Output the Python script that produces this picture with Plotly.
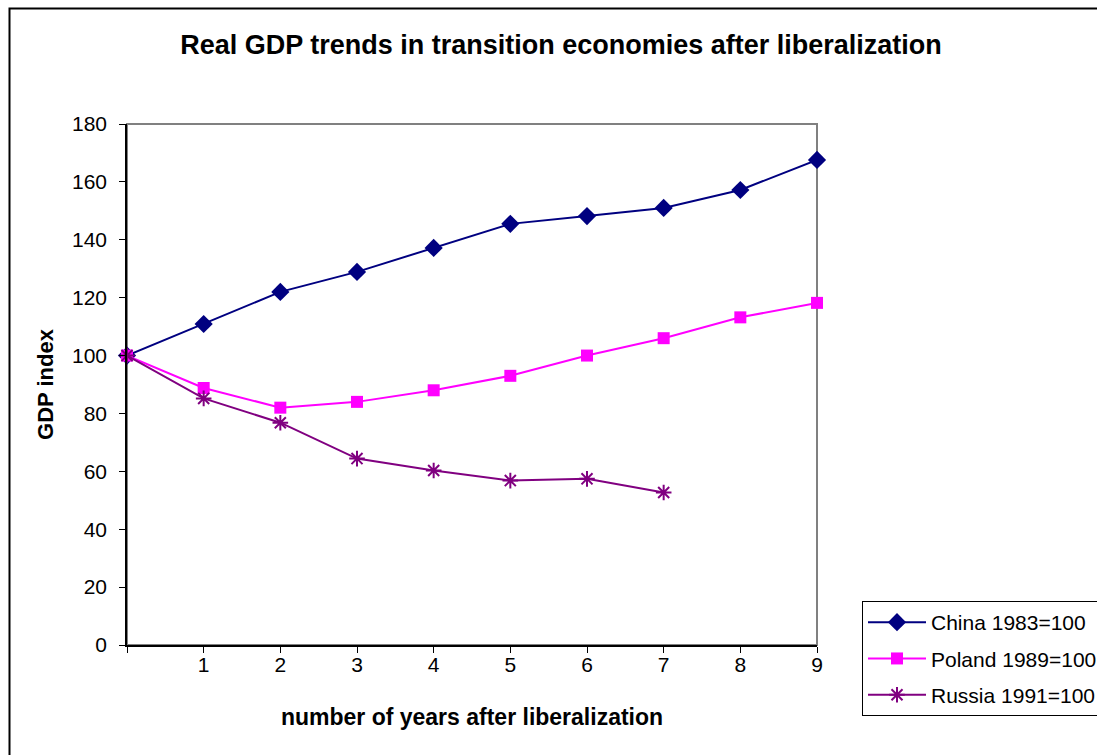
import plotly.graph_objects as go

years = [0, 1, 2, 3, 4, 5, 6, 7, 8, 9]
china = [100, 110.9, 122.0, 128.9, 137.2, 145.5, 148.2, 151.0, 157.2, 167.6]
poland = [100, 88.8, 82.0, 84.0, 88.0, 93.0, 100.0, 106.0, 113.2, 118.2]
russia_years = [0, 1, 2, 3, 4, 5, 6, 7]
russia = [100, 85.2, 76.8, 64.4, 60.3, 56.8, 57.4, 52.7]
x_ticktext = ["", "1", "2", "3", "4", "5", "6", "7", "8", "9"]
y_ticks = [0, 20, 40, 60, 80, 100, 120, 140, 160, 180]

FONT = "Arial, Liberation Sans, sans-serif"
W, H = 1097, 755
# page coordinates of plot area
L, R, T, B = 127, 817, 124, 645

fig = go.Figure()
fig.add_trace(go.Scatter(x=years, y=china, name="China 1983=100", mode="lines+markers",
                         line=dict(color="#000080", width=2),
                         marker=dict(symbol="diamond", size=14, color="#000080"),
                         cliponaxis=False, legendgroup="a"))
fig.add_trace(go.Scatter(x=years, y=poland, name="Poland 1989=100", mode="lines+markers",
                         line=dict(color="#FF00FF", width=2),
                         marker=dict(symbol="square", size=12, color="#FF00FF"),
                         cliponaxis=False, legendgroup="b"))
fig.add_trace(go.Scatter(x=russia_years, y=russia, name="Russia 1991=100", mode="lines+markers",
                         line=dict(color="#800080", width=2),
                         marker=dict(symbol="asterisk-open", size=13, color="#800080",
                                     line=dict(color="#800080", width=2)),
                         cliponaxis=False, legendgroup="c"))

def px(xp):
    return (xp - L) / (R - L)

def py(yp):
    return (B - yp) / (B - T)

# plot area border (gray top/right)
fig.add_shape(type="rect", xref="paper", yref="paper", x0=0, x1=1, y0=0, y1=1,
              line=dict(color="#808080", width=2), layer="below")
# outer chart border
fig.add_shape(type="rect", xref="paper", yref="paper", x0=px(9.5), x1=px(1400), y0=py(900), y1=py(8.5),
              line=dict(color="black", width=2), layer="below")

fig.update_layout(
    width=W, height=H,
    margin=dict(l=L, r=W - R, t=T, b=H - B, autoexpand=False),
    paper_bgcolor="white", plot_bgcolor="white",
    font=dict(family=FONT, size=20, color="black"),
    title=dict(text="<b>Real GDP trends in transition economies after liberalization</b>",
               x=561 / W, xanchor="center", y=1 - 45 / H, yanchor="middle",
               font=dict(family=FONT, size=27, color="black")),
    showlegend=True,
    legend=dict(x=px(862), y=py(601), xanchor="left", yanchor="top",
                bordercolor="black", borderwidth=1, bgcolor="white",
                font=dict(family=FONT, size=21, color="black"),
                tracegroupgap=6, traceorder="grouped", itemwidth=58),
)
fig.update_xaxes(range=[0, 9], tickvals=years, ticktext=x_ticktext,
                 showgrid=False, zeroline=False, showline=True, linecolor="black", linewidth=1.5,
                 ticks="outside", ticklen=6, tickcolor="black", tickwidth=1,
                 tickfont=dict(size=21), ticklabelstandoff=-6,
                 title=dict(text="<b>number of years after liberalization</b>", standoff=34,
                            font=dict(size=23)))
fig.update_yaxes(range=[0, 180], tickvals=y_ticks,
                 showgrid=False, zeroline=False, showline=True, linecolor="black", linewidth=1.5,
                 ticks="outside", ticklen=6, tickcolor="black", tickwidth=1,
                 tickfont=dict(size=21), ticklabelstandoff=8,
                 title=dict(text="<b>GDP index</b>", standoff=12, font=dict(size=22)))

fig.write_html("out.html", config={"displayModeBar": False},
               post_script="document.body.style.margin='0';document.body.style.overflow='hidden';")
